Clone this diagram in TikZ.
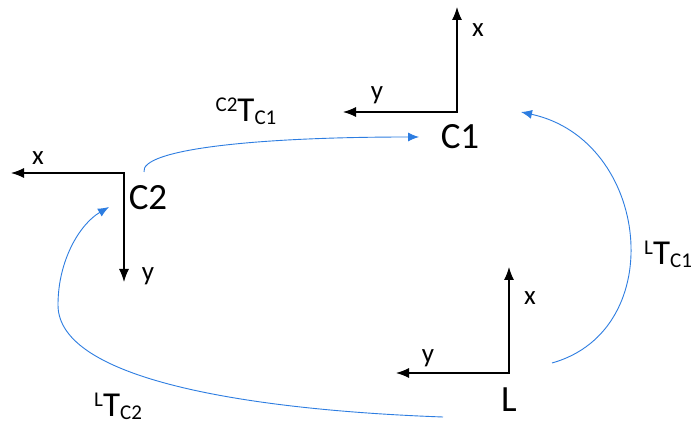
\documentclass[tikz,border=0pt]{standalone}
\usepackage{fontspec}
\setmainfont{Carlito}
\usetikzlibrary{arrows.meta}
\definecolor{arrowblue}{RGB}{45,125,225}
\tikzset{
  axis/.style={draw=black, line width=1.1pt, line cap=rect, -{Latex[length=13pt,width=10pt]}},
  trafo/.style={draw=arrowblue, line width=0.9pt, -{Latex[length=11pt,width=9pt]}},
  framelabel/.style={font=\fontsize{37}{37}\selectfont, inner sep=0pt},
  axislabel/.style={font=\fontsize{27}{27}\selectfont, inner sep=0pt},
  tlabel/.style={font=\fontsize{35}{35}\selectfont, inner sep=0pt},
}
\newcommand\trf[2]{\raisebox{10pt}{\fontsize{21}{21}\selectfont #1}T\raisebox{-3pt}{\fontsize{21}{21}\selectfont #2}}
\begin{document}
\begin{tikzpicture}[x=1pt,y=-1pt]
\useasboundingbox (0,0) rectangle (694,427);
\fill[white] (0,0) rectangle (694,427);

% frame C1
\coordinate (C1o) at (457,112);
\coordinate (C1x) at (457,7);
\coordinate (C1y) at (343,112);
\draw[axis] (C1o) -- (C1x);
\draw[axis] (C1o) -- (C1y);
\node[axislabel] (C1xl) at (478,30) {x};
\node[axislabel] (C1yl) at (377,95) {y};
\node[framelabel] (C1) at (460,137) {C1};

% frame C2
\coordinate (C2o) at (124,173);
\coordinate (C2x) at (11,173);
\coordinate (C2y) at (124,282);
\draw[axis] (C2o) -- (C2x);
\draw[axis] (C2o) -- (C2y);
\node[axislabel] (C2xl) at (38,158) {x};
\node[axislabel] (C2yl) at (148,276) {y};
\node[framelabel] (C2) at (148,198) {C2};

% frame L
\coordinate (Lo) at (509,373);
\coordinate (Lx) at (509,267);
\coordinate (Ly) at (396,373);
\draw[axis] (Lo) -- (Lx);
\draw[axis] (Lo) -- (Ly);
\node[axislabel] (Lxl) at (530,298) {x};
\node[axislabel] (Lyl) at (428,358) {y};
\node[framelabel] (L) at (509,400) {L};

% transforms
\coordinate (s21) at (144,172);
\coordinate (e21) at (419,137);
\draw[trafo] (s21) .. controls (140,150) and (250,137) .. (e21);
\node[tlabel] (T21) at (246,111) {\trf{C2}{C1}};

\coordinate (sL1) at (552,363);
\coordinate (eL1) at (521,112);
\draw[trafo] (sL1) .. controls (670,330) and (650,140) .. (eL1);
\node[tlabel, anchor=west] (TL1) at (644,254) {\trf{L}{C1}};

\coordinate (sL2) at (443,417);
\coordinate (mL2) at (58,305);
\coordinate (eL2) at (109,207);
\draw[trafo] (sL2) .. controls (250,410) and (58,380) .. (mL2)
  .. controls (58,260) and (80,224) .. (eL2);
\node[tlabel, anchor=west] (TL2) at (94,406) {\trf{L}{C2}};
\end{tikzpicture}
\end{document}
